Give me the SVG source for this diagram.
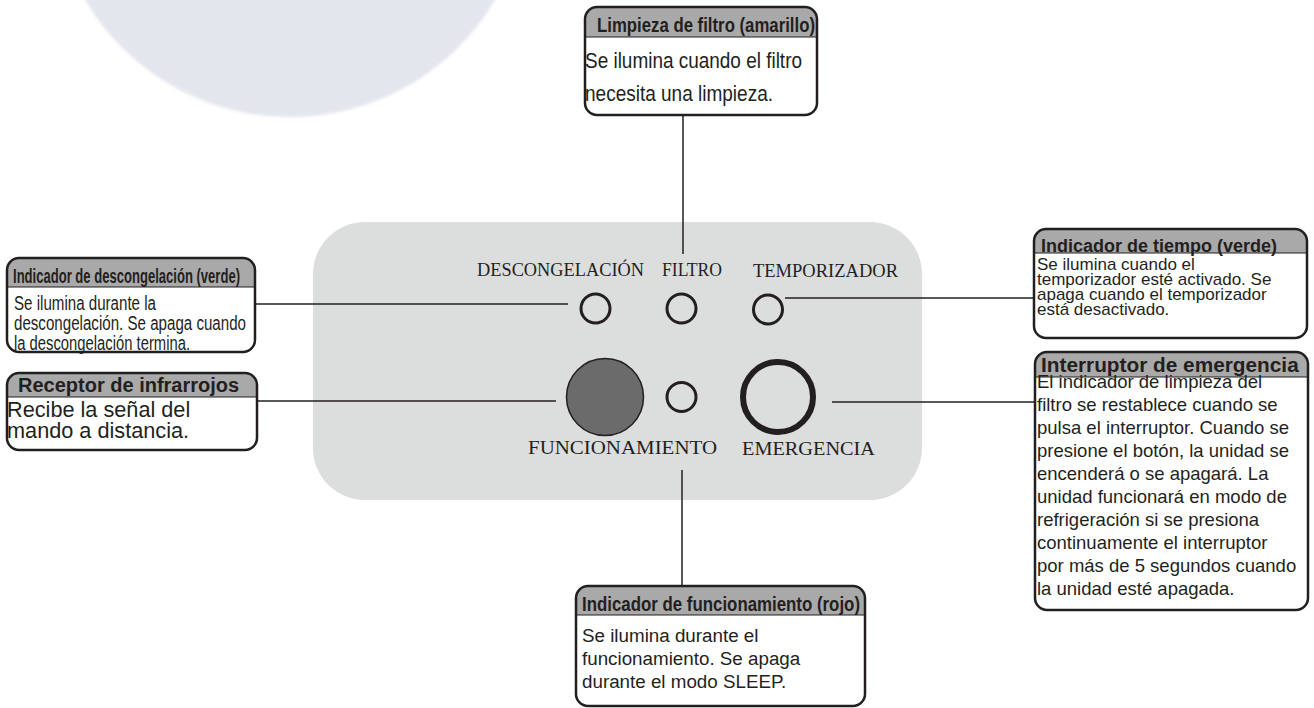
<svg xmlns="http://www.w3.org/2000/svg" width="1314" height="708" viewBox="0 0 1314 708">
<style>
.box{fill:#fff;stroke:none}
.brd{fill:none;stroke:#231f20;stroke-width:2.5}
.hdr{fill:#a9a9a9}
.sep{stroke:#231f20;stroke-width:1.2}
.ht{font-family:"Liberation Sans",Arial,sans-serif;font-weight:bold;fill:#231f20}
.bt{font-family:"Liberation Sans",Arial,sans-serif;fill:#231f20}
.pl{font-family:"Liberation Serif","Times New Roman",serif;fill:#231f20;font-size:19.5px}
.con{stroke:#231f20;stroke-width:1.5;fill:none}
.led{fill:none;stroke:#231f20;stroke-width:3}
</style>
<defs>
<filter id="soft" x="-10%" y="-10%" width="120%" height="120%"><feGaussianBlur stdDeviation="1.5"/></filter>
</defs>
<rect width="1314" height="708" fill="#fff"/>
<circle cx="290" cy="-121" r="238" fill="#e4e6ee" filter="url(#soft)"/>

<g id="panel">
<rect x="313" y="222" width="609" height="278" rx="52" fill="#dcdddd"/>
<text class="pl" x="477" y="276" textLength="167" lengthAdjust="spacingAndGlyphs">DESCONGELACIÓN</text>
<text class="pl" x="662" y="276" textLength="60" lengthAdjust="spacingAndGlyphs">FILTRO</text>
<text class="pl" x="753" y="277" textLength="145" lengthAdjust="spacingAndGlyphs">TEMPORIZADOR</text>
<text class="pl" x="528" y="454" textLength="189" lengthAdjust="spacingAndGlyphs">FUNCIONAMIENTO</text>
<text class="pl" x="742" y="455" textLength="133" lengthAdjust="spacingAndGlyphs">EMERGENCIA</text>
</g>
<g id="led-descongelacion"><circle class="led" cx="595.5" cy="308.5" r="14.5"/></g>
<g id="led-filtro"><circle class="led" cx="681.5" cy="308.5" r="14.5"/></g>
<g id="led-temporizador"><circle class="led" cx="768" cy="309.5" r="14.5"/></g>
<g id="receptor"><circle cx="605" cy="397" r="38.5" fill="#6b6b6b" stroke="#231f20" stroke-width="1.5"/></g>
<g id="led-funcionamiento"><circle class="led" cx="681.5" cy="397" r="14.5"/></g>
<g id="boton-emergencia"><circle cx="778" cy="397" r="35" fill="none" stroke="#231f20" stroke-width="6"/></g>

<g id="connectors">
<line class="con" x1="683" y1="115" x2="683" y2="254"/>
<line class="con" x1="255" y1="304" x2="568" y2="304"/>
<line class="con" x1="257" y1="401" x2="556" y2="401"/>
<line class="con" x1="785" y1="298" x2="1034" y2="298"/>
<line class="con" x1="832" y1="402" x2="1035" y2="402"/>
<line class="con" x1="682" y1="470" x2="682" y2="586"/>
</g>

<g id="box-limpieza">
<rect class="box" x="585" y="7" width="232" height="108" rx="12"/>
<path class="hdr" d="M585,37 V19 A12,12 0 0 1 597,7 H805 A12,12 0 0 1 817,19 V37 Z"/>
<line class="sep" x1="585" y1="37" x2="817" y2="37"/>
<rect class="brd" x="585" y="7" width="232" height="108" rx="12"/>
<text class="ht" x="597" y="32" font-size="20" textLength="218" lengthAdjust="spacingAndGlyphs">Limpieza de filtro (amarillo)</text>
<text class="bt" x="585" y="68" font-size="21.5" textLength="217" lengthAdjust="spacingAndGlyphs">Se ilumina cuando el filtro</text>
<text class="bt" x="585" y="101" font-size="21.5" textLength="188" lengthAdjust="spacingAndGlyphs">necesita una limpieza.</text>
</g>

<g id="box-descongelacion">
<rect class="box" x="7" y="258" width="248" height="94" rx="12"/>
<path class="hdr" d="M7,287 V270 A12,12 0 0 1 19,258 H243 A12,12 0 0 1 255,270 V287 Z"/>
<line class="sep" x1="7" y1="287" x2="255" y2="287"/>
<rect class="brd" x="7" y="258" width="248" height="94" rx="12"/>
<text class="ht" x="13" y="283" font-size="19.5" textLength="227" lengthAdjust="spacingAndGlyphs">Indicador de descongelación (verde)</text>
<text class="bt" x="14" y="310" font-size="19.5" textLength="142" lengthAdjust="spacingAndGlyphs">Se ilumina durante la</text>
<text class="bt" x="14" y="330" font-size="19.5" textLength="232" lengthAdjust="spacingAndGlyphs">descongelación. Se apaga cuando</text>
<text class="bt" x="14" y="349.5" font-size="19.5" textLength="176" lengthAdjust="spacingAndGlyphs">la descongelación termina.</text>
</g>

<g id="box-receptor">
<rect class="box" x="7" y="373" width="250" height="77" rx="12"/>
<path class="hdr" d="M7,397 V385 A12,12 0 0 1 19,373 H245 A12,12 0 0 1 257,385 V397 Z"/>
<line class="sep" x1="7" y1="397" x2="257" y2="397"/>
<rect class="brd" x="7" y="373" width="250" height="77" rx="12"/>
<text class="ht" x="18" y="392" font-size="20">Receptor de infrarrojos</text>
<text class="bt" x="7" y="417" font-size="21.7">Recibe la señal del</text>
<text class="bt" x="7" y="438" font-size="21.7">mando a distancia.</text>
</g>

<g id="box-tiempo">
<rect class="box" x="1034" y="229" width="273" height="109" rx="12"/>
<path class="hdr" d="M1034,253 V241 A12,12 0 0 1 1046,229 H1295 A12,12 0 0 1 1307,241 V253 Z"/>
<line class="sep" x1="1034" y1="253" x2="1307" y2="253"/>
<rect class="brd" x="1034" y="229" width="273" height="109" rx="12"/>
<text class="ht" x="1041" y="251.5" font-size="18">Indicador de tiempo (verde)</text>
<text class="bt" x="1037" y="270" font-size="17">Se ilumina cuando el</text>
<text class="bt" x="1037" y="285" font-size="17">temporizador esté activado. Se</text>
<text class="bt" x="1037" y="300" font-size="17">apaga cuando el temporizador</text>
<text class="bt" x="1037" y="314.5" font-size="17">está desactivado.</text>
</g>

<g id="box-emergencia">
<rect class="box" x="1035" y="352" width="273" height="258" rx="12"/>
<path class="hdr" d="M1035,377 V364 A12,12 0 0 1 1047,352 H1296 A12,12 0 0 1 1308,364 V377 Z"/>
<line class="sep" x1="1035" y1="377" x2="1308" y2="377"/>
<rect class="brd" x="1035" y="352" width="273" height="258" rx="12"/>
<text class="ht" x="1041" y="372" font-size="20.8">Interruptor de emergencia</text>
<g class="bt" font-size="18.5">
<text x="1037" y="388">El indicador de limpieza del</text>
<text x="1037" y="411">filtro se restablece cuando se</text>
<text x="1037" y="434">pulsa el interruptor. Cuando se</text>
<text x="1037" y="457">presione el botón, la unidad se</text>
<text x="1037" y="480">encenderá o se apagará. La</text>
<text x="1037" y="503">unidad funcionará en modo de</text>
<text x="1037" y="526">refrigeración si se presiona</text>
<text x="1037" y="549">continuamente el interruptor</text>
<text x="1037" y="572">por más de 5 segundos cuando</text>
<text x="1037" y="595">la unidad esté apagada.</text>
</g>
</g>

<g id="box-funcionamiento">
<rect class="box" x="576" y="586" width="289" height="120" rx="12"/>
<path class="hdr" d="M576,615 V598 A12,12 0 0 1 588,586 H853 A12,12 0 0 1 865,598 V615 Z"/>
<line class="sep" x1="576" y1="615" x2="865" y2="615"/>
<rect class="brd" x="576" y="586" width="289" height="120" rx="12"/>
<text class="ht" x="582" y="611" font-size="19.5" textLength="278" lengthAdjust="spacingAndGlyphs">Indicador de funcionamiento (rojo)</text>
<text class="bt" x="582" y="642" font-size="18.8">Se ilumina durante el</text>
<text class="bt" x="582" y="665" font-size="18.8">funcionamiento. Se apaga</text>
<text class="bt" x="582" y="687.5" font-size="18.8">durante el modo SLEEP.</text>
</g>
</svg>
